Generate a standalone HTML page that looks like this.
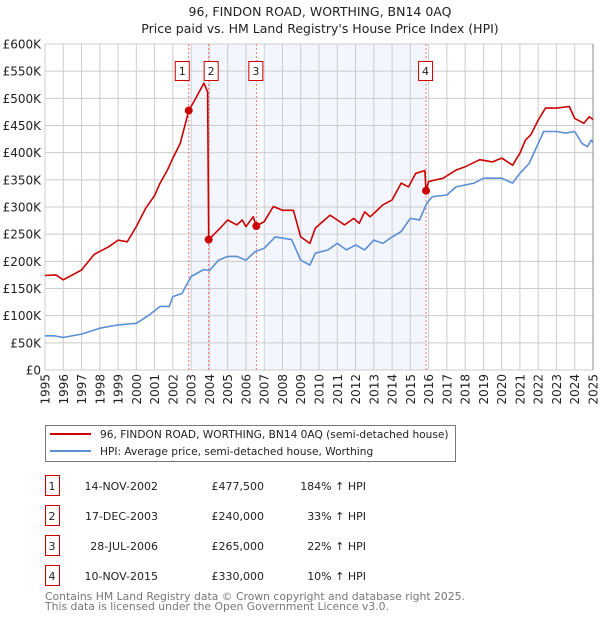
<!DOCTYPE html>
<html><head><meta charset="utf-8"><style>
body{margin:0;background:#fff;font-family:"DejaVu Sans","Liberation Sans",sans-serif;}
svg text{font-family:"DejaVu Sans","Liberation Sans",sans-serif;}
</style></head><body>
<svg id="c" width="600" height="620" viewBox="0 0 600 620">
<text x="320" y="16" text-anchor="middle" font-size="12.5" fill="#222">96, FINDON ROAD, WORTHING, BN14 0AQ</text>
<text x="320" y="33" text-anchor="middle" font-size="12.5" fill="#222">Price paid vs. HM Land Registry's House Price Index (HPI)</text>
<g id="plot"></g>
<g>
<rect x="45.5" y="425.5" width="410" height="36" fill="#fff" stroke="#777"/>
<line x1="50" y1="434" x2="91" y2="434" stroke="#cc0000" stroke-width="2"/>
<text x="100" y="438" font-size="10.6" fill="#222">96, FINDON ROAD, WORTHING, BN14 0AQ (semi-detached house)</text>
<line x1="50" y1="451" x2="91" y2="451" stroke="#5b8fd6" stroke-width="2"/>
<text x="100" y="455" font-size="10.6" fill="#222">HPI: Average price, semi-detached house, Worthing</text>
</g>
<g id="table" font-size="11" fill="#222"></g>
<text x="45" y="600" font-size="10.8" fill="#777">Contains HM Land Registry data © Crown copyright and database right 2025.</text>
<text x="45" y="610" font-size="10.8" fill="#777">This data is licensed under the Open Government Licence v3.0.</text>
</svg>
<script>
const hpiYears=[1995,1995.5,1996,1997,1998,1999,2000,2000.7,2001.3,2001.8,2002,2002.5,2003,2003.7,2004,2004.5,2005,2005.5,2006,2006.5,2007,2007.6,2008.5,2009,2009.5,2009.8,2010.5,2011,2011.5,2012,2012.5,2013,2013.5,2014,2014.5,2015,2015.5,2015.9,2016.2,2017,2017.5,2018.5,2019,2020,2020.6,2021,2021.5,2022,2022.3,2023,2023.5,2024,2024.4,2024.7,2024.9,2025];
const hpiValues=[63,63,60,66,77,83,86,101,117,117,135,141,172,185,183,202,209,209,202,218,224,245,240,202,193,215,221,233,221,230,221,239,233,245,255,279,276,307,319,322,337,344,353,353,344,362,380,417,439,439,436,439,417,411,423,419];
const priceYears=[1995,1995.6,1996,1997,1997.7,1998.5,1999,1999.5,2000,2000.5,2001,2001.3,2001.7,2002,2002.4,2002.87,2003.2,2003.7,2003.9,2003.96,2004.5,2005,2005.5,2005.8,2006,2006.4,2006.57,2007,2007.5,2008,2008.6,2009,2009.5,2009.8,2010,2010.6,2011,2011.4,2011.9,2012.2,2012.5,2012.8,2013,2013.5,2014,2014.5,2014.9,2015.3,2015.8,2015.86,2016,2016.8,2017.5,2018,2018.8,2019.5,2020,2020.6,2021,2021.3,2021.6,2022,2022.4,2023,2023.7,2024,2024.5,2024.8,2025];
const priceValues=[174,175,166,184,213,227,239,236,264,297,321,344,368,390,417,477.5,497,528,512,240,258,276,267,276,264,282,265,273,301,294,294,245,233,261,267,285,276,267,279,270,291,282,288,304,313,344,337,362,367,330,347,353,368,374,387,383,390,377,399,423,433,460,482,482,485,463,454,466,461];
const saleIds=["1","2","3","4"];
const saleYears=[2002.87,2003.96,2006.57,2015.86];
const saleValues=[477.5,240,265,330];
const saleDates=["14-NOV-2002","17-DEC-2003","28-JUL-2006","10-NOV-2015"];
const salePrices=["£477,500","£240,000","£265,000","£330,000"];
const saleHpi=["184% ↑ HPI","33% ↑ HPI","22% ↑ HPI","10% ↑ HPI"];
const yTicks=[0,50,100,150,200,250,300,350,400,450,500,550,600];
const yTickLabels=["£0","£50K","£100K","£150K","£200K","£250K","£300K","£350K","£400K","£450K","£500K","£550K","£600K"];
const xTicks=[1995,1996,1997,1998,1999,2000,2001,2002,2003,2004,2005,2006,2007,2008,2009,2010,2011,2012,2013,2014,2015,2016,2017,2018,2019,2020,2021,2022,2023,2024,2025];
const shadeBands=[[2003,2006.5],[2007,2015.86]];

const L=45,R=593,T=44,B=370;
const X=y=>L+(y-1995)/30*(R-L);
const Y=v=>B-v/600*(B-T);
const NS="http://www.w3.org/2000/svg";
const plot=document.getElementById('plot');
function mk(tag,attrs,parent){const e=document.createElementNS(NS,tag);for(const k in attrs)e.setAttribute(k,attrs[k]);(parent||plot).appendChild(e);return e;}

mk('rect',{x:L,y:T,width:R-L,height:B-T,fill:'#fff'});
shadeBands.forEach(b=>{const r=mk('rect',{x:X(b[0]),y:T,width:X(b[1])-X(b[0]),height:B-T,fill:'#f3f6fe'});

});
yTicks.forEach((v,i)=>{const l=mk('line',{x1:L,x2:R,y1:Y(v),y2:Y(v),stroke:'#ccc'});


const t=mk('text',{x:L-4,y:Y(v)+4.5,'text-anchor':'end','font-size':12,fill:'#222'});t.textContent=yTickLabels[i];

});
xTicks.forEach(yr=>{const l=mk('line',{x1:X(yr),x2:X(yr),y1:T,y2:B,stroke:'#ccc'});


const t=mk('text',{x:0,y:0,'text-anchor':'end','font-size':12,fill:'#222',transform:`translate(${X(yr)+4.5},${B+4}) rotate(-90)`});t.textContent=yr;

});
mk('line',{x1:R,x2:R,y1:T,y2:B,stroke:'#888'});
saleYears.forEach((yr,i)=>{const l=mk('line',{x1:X(yr),x2:X(yr),y1:T,y2:B,stroke:'#f07070','stroke-dasharray':'2,2'});

});
function path(xs,vs,col,name){let d='';xs.forEach((x,i)=>{d+=(i?'L':'M')+X(x).toFixed(1)+','+Y(vs[i]).toFixed(1);});
const p=mk('path',{d:d,fill:'none',stroke:col,'stroke-width':1.6,'stroke-linejoin':'round'});

}
path(hpiYears,hpiValues,'#5b8fd6','hpi-line');
path(priceYears,priceValues,'#cc0000','price-line');
saleYears.forEach((yr,i)=>{const c=mk('circle',{cx:X(yr),cy:Y(saleValues[i]),r:4,fill:'#cc0000'});


const bx=X(yr)-(i===0?7:i===1?-2:1)-7;
const r=mk('rect',{x:bx+0.5,y:61.5,width:14,height:19,fill:'#fff',stroke:'#cc0000'});


const t=mk('text',{x:bx+7.5,y:75,'text-anchor':'middle','font-size':11,fill:'#222'});t.textContent=saleIds[i];

});

const tb=document.getElementById('table');
saleIds.forEach((id,i)=>{const y=475+i*30;
const r=mk('rect',{x:45.5,y:y+0.5,width:14,height:20,fill:'#fff',stroke:'#cc0000'},tb);


const vals=[[52,id,'middle'],[158,saleDates[i],'end'],[264,salePrices[i],'end'],[366,saleHpi[i],'end']];
vals.forEach(v=>{const t=mk('text',{x:v[0],y:y+15,'text-anchor':v[2]},tb);t.textContent=v[1];

});});
</script>
</body></html>
